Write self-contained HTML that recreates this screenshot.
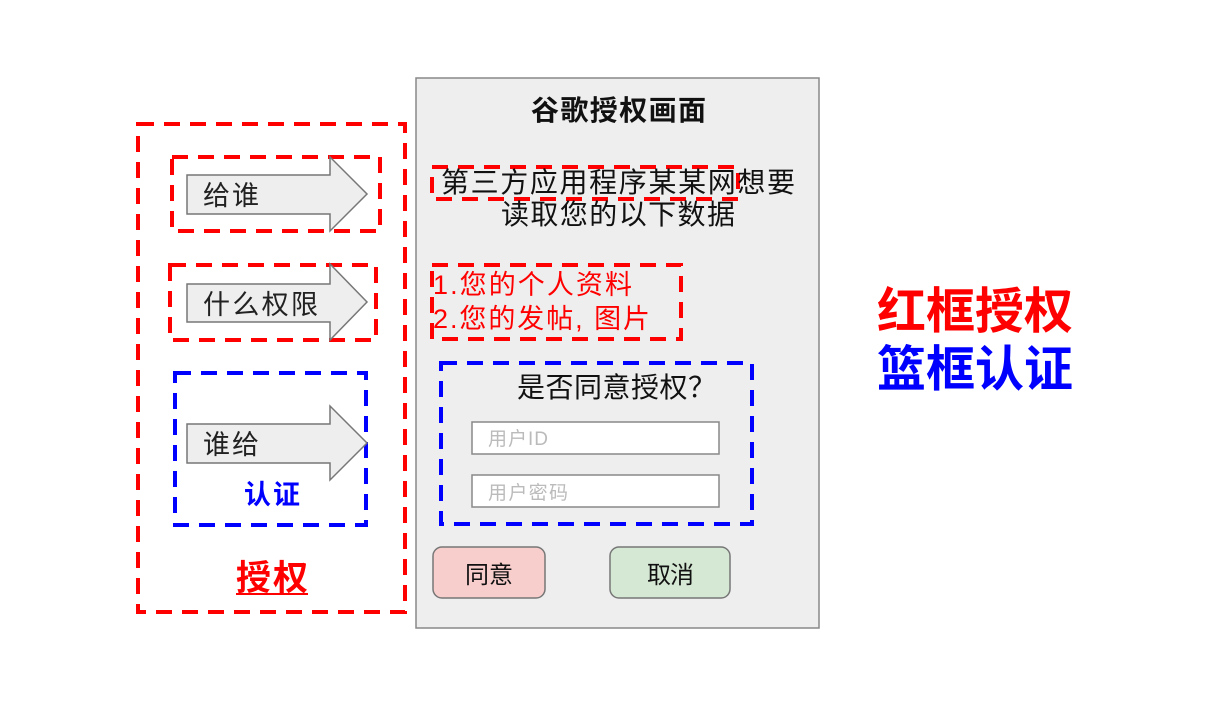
<!DOCTYPE html>
<html><head><meta charset="utf-8"><style>
body{margin:0;background:#fff;}
svg text{font-family:"Liberation Sans","Noto Sans CJK SC",sans-serif;}
</style></head><body>
<svg width="1220" height="702" xmlns="http://www.w3.org/2000/svg">
<rect x="416" y="78" width="403" height="550" fill="#eeeeee" stroke="#888" stroke-width="1.5"/>
<g fill="none" stroke-width="4" stroke-dasharray="16 10">
<rect x="138" y="124" width="267" height="488" stroke="#f00"/>
<rect x="172" y="157" width="208" height="74" stroke="#f00"/>
<rect x="170" y="265" width="206" height="75" stroke="#f00"/>
<rect x="175" y="373" width="191" height="152" stroke="#00f"/>
<rect x="432" y="167" width="306" height="32" stroke="#f00"/>
<rect x="432" y="265" width="249" height="74" stroke="#f00"/>
<rect x="441" y="363" width="311" height="161" stroke="#00f"/>
</g>
<g fill="#eeeeee" stroke="#777" stroke-width="1.5">
<polygon points="187,175 330,175 330,157 367,194 330,231 330,214 187,214"/>
<polygon points="187,284 330,284 330,264 367,302 330,340 330,322 187,322"/>
<polygon points="187,424 330,424 330,406 367,443 330,480 330,463 187,463"/>
</g>
<g font-size="27" fill="#222">
<text x="203" y="205" textLength="56">给谁</text>
<text x="203" y="314" textLength="115">什么权限</text>
<text x="203" y="454" textLength="56">谁给</text>
</g>
<text x="244" y="504" font-size="27" font-weight="bold" fill="#00f" textLength="56">认证</text>
<text x="236" y="590" font-size="35" font-weight="bold" fill="#f00" textLength="72">授权</text>
<line x1="236" y1="594" x2="308" y2="594" stroke="#f00" stroke-width="2"/>
<text x="531" y="120" font-size="28" font-weight="bold" fill="#111" textLength="175">谷歌授权画面</text>
<text x="441" y="192" font-size="28" fill="#111" textLength="354">第三方应用程序某某网想要</text>
<text x="501" y="224" font-size="28" fill="#111" textLength="234">读取您的以下数据</text>
<text x="433" y="294" font-size="27" fill="#f00" textLength="199">1.您的个人资料</text>
<text x="433" y="328" font-size="27" fill="#f00" textLength="217">2.您的发帖, 图片</text>
<text x="517" y="397" font-size="28" fill="#111" textLength="199">是否同意授权？</text>
<rect x="472" y="422" width="247" height="32" fill="#fff" stroke="#888" stroke-width="1.5"/>
<rect x="472" y="475" width="247" height="32" fill="#fff" stroke="#888" stroke-width="1.5"/>
<text x="488" y="445" font-size="19" fill="#bbb" textLength="60">用户ID</text>
<text x="488" y="499" font-size="19" fill="#bbb" textLength="80">用户密码</text>
<rect x="433" y="547" width="112" height="51" rx="9" fill="#f8cecc" stroke="#777" stroke-width="1.5"/>
<rect x="610" y="547" width="120" height="51" rx="9" fill="#d5e8d4" stroke="#777" stroke-width="1.5"/>
<text x="465" y="583" font-size="24" fill="#111" textLength="48">同意</text>
<text x="647" y="583" font-size="24" fill="#111" textLength="47">取消</text>
<text x="877" y="328" font-size="49" font-weight="bold" fill="#f00" textLength="196">红框授权</text>
<text x="877" y="386" font-size="49" font-weight="bold" fill="#00f" textLength="196">篮框认证</text>
</svg>
</body></html>
